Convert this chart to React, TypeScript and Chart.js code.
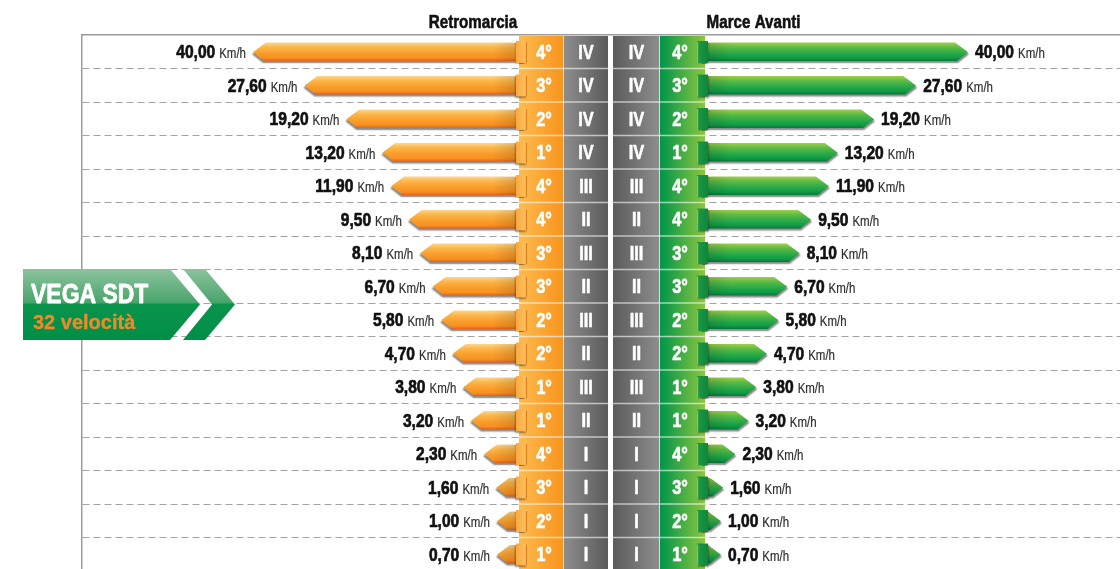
import React, { useEffect, useRef } from 'react';
import { Chart, registerables, LinearScale } from 'chart.js';

Chart.register(...registerables);

// ---------------- data ----------------
const rowGearsRetro = ['4°', '3°', '2°', '1°', '4°', '4°', '3°', '3°', '2°', '2°', '1°', '1°', '4°', '3°', '2°', '1°'];
const rowRangesRetro = ['IV', 'IV', 'IV', 'IV', 'III', 'II', 'III', 'II', 'III', 'II', 'III', 'II', 'I', 'I', 'I', 'I'];
const rowRangesForward = ['IV', 'IV', 'IV', 'IV', 'III', 'II', 'III', 'II', 'III', 'II', 'III', 'II', 'I', 'I', 'I', 'I'];
const rowGearsForward = ['4°', '3°', '2°', '1°', '4°', '4°', '3°', '3°', '2°', '2°', '1°', '1°', '4°', '3°', '2°', '1°'];
const retroSpeeds = [40.0, 27.6, 19.2, 13.2, 11.9, 9.5, 8.1, 6.7, 5.8, 4.7, 3.8, 3.2, 2.3, 1.6, 1.0, 0.7];
const forwardSpeeds = [40.0, 27.6, 19.2, 13.2, 11.9, 9.5, 8.1, 6.7, 5.8, 4.7, 3.8, 3.2, 2.3, 1.6, 1.0, 0.7];
const headerRetro = 'Retromarcia';
const headerForward = 'Marce Avanti';
const badgeTitle = 'VEGA SDT';
const badgeSubtitle = '32 velocità';
const unitLabel = 'Km/h';
const speedMin = 0;
const speedMax = 40;

// ---------------- styles ----------------
const FAMILY = '"Liberation Sans", Arial, Helvetica, sans-serif';
const CONDENSE = 0.82;

const COL = {
  orangeL: 519,
  orangeR: 563,
  grayLR: 608,
  grayRL: 613,
  grayRR: 660,
  greenR: 705,
};

const PAL_ORANGE = {
  body: [
    [0, '#fed690'],
    [0.25, '#fcb649'],
    [0.6, '#f99c2b'],
    [0.84, '#f7901f'],
    [1, '#e8601d'],
  ],
  tabIn: '#e3801d',
  tabA: '#fdc462',
  tabB: '#f9a83f',
};
const PAL_GREEN = {
  body: [
    [0, '#9fd04a'],
    [0.25, '#5fbb46'],
    [0.6, '#27a948'],
    [0.84, '#0e9a45'],
    [1, '#077a38'],
  ],
  tabIn: '#7cc46a',
  tabA: '#1e9944',
  tabB: '#0d883b',
};

// -------- custom square-root scale with its own pixel span --------
class SqrtSideScale extends LinearScale {
  static id = 'sqrtSide';
  static defaults = { ...(LinearScale as any).defaults };
  configure() {
    super.configure();
    const o: any = this.options;
    if (typeof o.originPixel === 'number' && typeof o.endPixel === 'number') {
      (this as any)._startPixel = o.originPixel;
      (this as any)._endPixel = o.endPixel;
      (this as any)._length = o.endPixel - o.originPixel;
      (this as any)._reversePixels = false;
    }
  }
  getPixelForValue(value: any) {
    if (value === null || value === undefined || isNaN(value)) return NaN;
    const range = (this as any).max - (this as any).min;
    const d = Math.sqrt(Math.max(0, value - (this as any).min)) / Math.sqrt(range);
    return this.getPixelForDecimal(d);
  }
  getValueForPixel(pixel: number) {
    const d = this.getDecimalForPixel(pixel);
    return (this as any).min + d * d * ((this as any).max - (this as any).min);
  }
}
Chart.register(SqrtSideScale as any);

const fmt = (v: number) => v.toFixed(2).replace('.', ',');

function setFont(ctx: CanvasRenderingContext2D, size: number, bold: boolean) {
  ctx.font = `${bold ? 'bold ' : ''}${size}px ${FAMILY}`;
}
function measure(ctx: CanvasRenderingContext2D, s: string, size: number, bold: boolean, sx = CONDENSE) {
  ctx.save();
  setFont(ctx, size, bold);
  const w = ctx.measureText(s).width * sx;
  ctx.restore();
  return w;
}
function text(
  ctx: CanvasRenderingContext2D,
  s: string,
  x: number,
  y: number,
  size: number,
  bold: boolean,
  color: string,
  align: CanvasTextAlign = 'left',
  baseline: CanvasTextBaseline = 'alphabetic',
  sx = CONDENSE,
  heavy = 0,
) {
  ctx.save();
  setFont(ctx, size, bold);
  ctx.fillStyle = color;
  ctx.textAlign = align;
  ctx.textBaseline = baseline;
  ctx.translate(x, y);
  ctx.scale(sx, 1);
  ctx.fillText(s, 0, 0);
  if (heavy > 0) {
    ctx.strokeStyle = color;
    ctx.lineWidth = heavy;
    ctx.lineJoin = 'round';
    ctx.strokeText(s, 0, 0);
  }
  ctx.restore();
}

function bodyPath(ctx: CanvasRenderingContext2D, dir: number, start: number, tip: number, cy: number, hh: number) {
  const head = 13;
  const neck = tip - dir * head;
  ctx.beginPath();
  ctx.moveTo(start, cy - hh);
  ctx.lineTo(neck, cy - hh);
  ctx.lineTo(tip, cy + 0.5);
  ctx.lineTo(neck + dir * 2, cy + hh);
  ctx.lineTo(start, cy + hh);
  ctx.closePath();
}

function drawArrow(ctx: CanvasRenderingContext2D, dir: number, edge: number, tip: number, cy: number, hh: number, pal: any) {
  const start = edge - dir * 4;
  ctx.save();
  bodyPath(ctx, dir, start, tip, cy, hh);
  ctx.shadowColor = 'rgba(40,40,40,0.55)';
  ctx.shadowOffsetY = 2;
  ctx.shadowOffsetX = dir;
  ctx.shadowBlur = 1.5;
  const g = ctx.createLinearGradient(0, cy - hh, 0, cy + hh);
  pal.body.forEach(([s, c]: [number, string]) => g.addColorStop(s, c));
  ctx.fillStyle = g;
  ctx.fill();
  ctx.restore();

  // fold shading near the tab
  ctx.save();
  bodyPath(ctx, dir, start, tip, cy, hh);
  ctx.clip();
  const sh = ctx.createLinearGradient(edge, 0, edge + dir * 26, 0);
  sh.addColorStop(0, 'rgba(0,0,0,0.14)');
  sh.addColorStop(1, 'rgba(0,0,0,0)');
  ctx.fillStyle = sh;
  ctx.fillRect(Math.min(edge, edge + dir * 26), cy - hh, 26, hh * 2);
  ctx.restore();

  // ribbon tab
  const inner = edge - dir * 8;
  const outer = edge + dir * 3;
  const x0 = Math.min(inner, outer);
  const w = Math.abs(outer - inner);
  const t0 = cy - hh - 1.5;
  const t1 = cy + hh + 2;
  ctx.save();
  ctx.shadowColor = 'rgba(40,40,40,0.45)';
  ctx.shadowOffsetY = 1.5;
  ctx.shadowOffsetX = dir;
  ctx.shadowBlur = 1.5;
  const tg = ctx.createLinearGradient(inner, 0, outer, 0);
  tg.addColorStop(0, pal.tabA);
  tg.addColorStop(1, pal.tabB);
  ctx.fillStyle = tg;
  ctx.fillRect(x0, t0, w, t1 - t0);
  ctx.restore();
  ctx.save();
  ctx.strokeStyle = pal.tabIn;
  ctx.lineWidth = 1.2;
  ctx.beginPath();
  ctx.moveTo(inner + dir * 0.6, t0 + 1);
  ctx.lineTo(inner + dir * 0.6, t1);
  ctx.stroke();
  ctx.restore();
}

function drawValue(ctx: CanvasRenderingContext2D, dir: number, tip: number, cy: number, value: number) {
  const num = fmt(value);
  const gap = 7;
  const nw = measure(ctx, num, 19, true);
  const uw = measure(ctx, unitLabel, 14, false);
  const y = cy + 1.5;
  let nx: number;
  let ux: number;
  if (dir > 0) {
    nx = tip + gap;
    ux = nx + nw + 4;
  } else {
    ux = tip - gap - uw;
    nx = ux - 4 - nw;
  }
  text(ctx, num, nx, y, 19, true, '#111111', 'left', 'middle', CONDENSE, 0.7);
  text(ctx, unitLabel, ux, y + 1, 14, false, '#2e2e2e', 'left', 'middle', CONDENSE, 0.2);
}

const infographicPlugin = {
  id: 'infographic',
  beforeDatasetsDraw(chart: any) {
    const { ctx, chartArea, scales } = chart;
    const yS = scales.y;
    const top = chartArea.top + 1;
    const bottom = chartArea.bottom;
    const h = bottom - top;
    ctx.save();
    const col = (x0: number, x1: number, c0: string, c1: string) => {
      const g = ctx.createLinearGradient(x0, 0, x1, 0);
      g.addColorStop(0, c0);
      g.addColorStop(1, c1);
      ctx.fillStyle = g;
      ctx.fillRect(x0, top, x1 - x0, h);
    };
    col(COL.orangeL, COL.orangeR, '#fdbb4f', '#f7941d');
    col(COL.orangeR, COL.grayLR, '#8e8e8e', '#5b5b5b');
    ctx.fillStyle = '#ffffff';
    ctx.fillRect(COL.grayLR, top, COL.grayRL - COL.grayLR, h);
    col(COL.grayRL, COL.grayRR, '#5b5b5b', '#8e8e8e');
    col(COL.grayRR, COL.greenR, '#00954a', '#8dc63f');

    ctx.strokeStyle = 'rgba(255,255,255,0.6)';
    ctx.lineWidth = 1.5;
    const n = yS.ticks.length;
    for (let i = 1; i < n; i++) {
      const y = (yS.getPixelForValue(i - 1) + yS.getPixelForValue(i)) / 2;
      ctx.beginPath();
      ctx.moveTo(COL.orangeL, y);
      ctx.lineTo(COL.grayLR, y);
      ctx.moveTo(COL.grayRL, y);
      ctx.lineTo(COL.greenR, y);
      ctx.stroke();
    }
    ctx.strokeStyle = 'rgba(255,255,255,0.7)';
    ctx.lineWidth = 1;
    ctx.beginPath();
    ctx.moveTo(COL.orangeR + 0.5, top);
    ctx.lineTo(COL.orangeR + 0.5, bottom);
    ctx.moveTo(COL.grayRR - 0.5, top);
    ctx.lineTo(COL.grayRR - 0.5, bottom);
    ctx.stroke();
    ctx.restore();
  },
  afterDatasetsDraw(chart: any) {
    const { ctx } = chart;
    const metaL = chart.getDatasetMeta(0);
    const metaR = chart.getDatasetMeta(1);
    metaL.data.forEach((el: any, i: number) => {
      const tip = Math.min(el.x, COL.orangeL - 22);
      drawArrow(ctx, -1, COL.orangeL, tip, el.y, el.height / 2, PAL_ORANGE);
      drawValue(ctx, -1, tip, el.y, retroSpeeds[i]);
    });
    metaR.data.forEach((el: any, i: number) => {
      const tip = Math.max(el.x, COL.greenR + 16);
      drawArrow(ctx, 1, COL.greenR, tip, el.y, el.height / 2, PAL_GREEN);
      drawValue(ctx, 1, tip, el.y, forwardSpeeds[i]);
    });

    // column labels
    const yS = chart.scales.y;
    rowGearsRetro.forEach((g, i) => {
      const y = yS.getPixelForValue(i) + 1.5;
      text(ctx, g, 544, y, 20, true, '#ffffff', 'center', 'middle', CONDENSE, 0.6);
      text(ctx, rowRangesRetro[i], 586, y, 20, true, '#ffffff', 'center', 'middle', CONDENSE, 0.6);
      text(ctx, rowRangesForward[i], 636.5, y, 20, true, '#ffffff', 'center', 'middle', CONDENSE, 0.6);
      text(ctx, rowGearsForward[i], 680, y, 20, true, '#ffffff', 'center', 'middle', CONDENSE, 0.6);
    });
  },
  afterDraw(chart: any) {
    const { ctx } = chart;
    // headers
    text(ctx, headerRetro, 473, 28, 18.5, true, '#111111', 'center', 'alphabetic', CONDENSE, 0.6);
    text(ctx, headerForward, 753.5, 28, 18.5, true, '#111111', 'center', 'alphabetic', CONDENSE, 0.6);

    // badge
    ctx.save();
    const bTop = 269;
    const bBot = 340;
    const bMid = (bTop + bBot) / 2;
    const g = ctx.createLinearGradient(0, bTop, 0, bBot);
    g.addColorStop(0, '#8cc39e');
    g.addColorStop(0.47, '#4aa46c');
    g.addColorStop(0.5, '#09934b');
    g.addColorStop(1, '#008f48');
    ctx.fillStyle = g;
    ctx.beginPath();
    ctx.moveTo(23, bTop);
    ctx.lineTo(170, bTop);
    ctx.lineTo(200, bMid);
    ctx.lineTo(170, bBot);
    ctx.lineTo(23, bBot);
    ctx.closePath();
    ctx.fill();
    ctx.beginPath();
    ctx.moveTo(183, bTop);
    ctx.lineTo(205, bTop);
    ctx.lineTo(235, bMid);
    ctx.lineTo(205, bBot);
    ctx.lineTo(183, bBot);
    ctx.lineTo(212, bMid);
    ctx.closePath();
    ctx.fill();
    ctx.restore();

    text(ctx, badgeTitle, 31, 303, 28, true, '#ffffff', 'left', 'alphabetic', CONDENSE, 0.8);
    text(ctx, badgeSubtitle, 33, 328.5, 20, true, '#ee8a2b', 'left', 'alphabetic', 1, 0.3);
  },
};

export default function App() {
  const ref = useRef<HTMLCanvasElement | null>(null);
  useEffect(() => {
    const canvas = ref.current;
    if (!canvas) return;
    const labels = rowGearsRetro.map((g, i) => `${g} ${rowRangesRetro[i]}`);
    const chart = new Chart(canvas, {
      type: 'bar',
      data: {
        labels,
        datasets: [
          {
            label: headerRetro,
            data: retroSpeeds,
            xAxisID: 'xL',
            yAxisID: 'y',
            backgroundColor: 'rgba(0,0,0,0)',
            borderWidth: 0,
            grouped: false,
            barPercentage: 0.55,
            categoryPercentage: 1,
          } as any,
          {
            label: headerForward,
            data: forwardSpeeds,
            xAxisID: 'xR',
            yAxisID: 'y',
            backgroundColor: 'rgba(0,0,0,0)',
            borderWidth: 0,
            grouped: false,
            barPercentage: 0.55,
            categoryPercentage: 1,
          } as any,
        ],
      },
      options: {
        indexAxis: 'y',
        animation: false,
        responsive: false,
        events: [],
        layout: { padding: { left: 82, top: 35, right: 0, bottom: 0 } },
        plugins: {
          legend: { display: false },
          tooltip: { enabled: false },
          title: { display: false },
        },
        scales: {
          y: {
            type: 'category',
            position: 'left',
            offset: true,
            ticks: { display: false },
            grid: {
              offset: true,
              drawTicks: false,
              lineWidth: 1,
              color: (c: any) => (c.index === 0 ? 'rgba(0,0,0,0)' : '#a3a3a3'),
            },
            border: { display: true, color: '#9b9b9b', width: 1.5, dash: [7, 4] },
          },
          xL: {
            type: 'sqrtSide',
            position: 'top',
            min: speedMin,
            max: speedMax,
            originPixel: 557,
            endPixel: 253,
            ticks: { display: false },
            grid: { display: false, drawTicks: false },
            border: { display: true, color: '#9b9b9b', width: 1.5 },
          },
          xR: {
            type: 'sqrtSide',
            position: 'bottom',
            display: false,
            min: speedMin,
            max: speedMax,
            originPixel: 662,
            endPixel: 968,
          },
        } as any,
      },
      plugins: [infographicPlugin],
    } as any);
    return () => chart.destroy();
  }, []);
  return (
    <div
      style={{
        position: 'fixed',
        left: 0,
        top: 0,
        width: 1120,
        height: 569,
        overflow: 'hidden',
        background: '#ffffff',
      }}
    >
      <canvas ref={ref} width={1120} height={571} style={{ display: 'block', width: 1120, height: 571 }} />
    </div>
  );
}
